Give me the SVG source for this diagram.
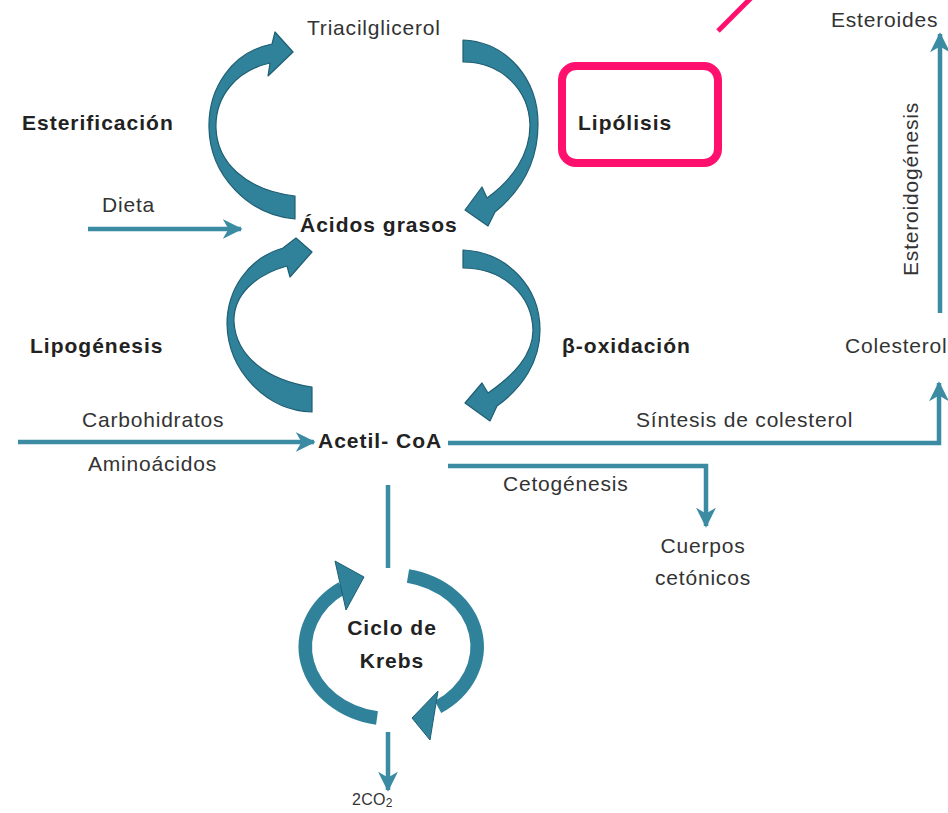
<svg xmlns="http://www.w3.org/2000/svg" width="948" height="813" viewBox="0 0 948 813">
<style>
  .t { font-family: "Liberation Sans", Arial, sans-serif; font-size: 21px; fill: #333; letter-spacing: 0.8px; }
  .b { font-family: "Liberation Sans", Arial, sans-serif; font-size: 21px; font-weight: bold; fill: #222; letter-spacing: 1px; }
  .ln { fill: none; stroke: #3b8ca3; stroke-width: 4.5; }
  .cv { fill: #30819a; stroke: #1f5f73; stroke-width: 1.2; stroke-linejoin: round; }
  .kr { fill: none; stroke: #30819a; stroke-width: 13.5; }
  .kh { fill: #30819a; stroke: #1f5f73; stroke-width: 1; stroke-linejoin: round; }
  .pk { fill: none; stroke: #ff0f6e; }
</style>
<defs>
  <marker id="ah" viewBox="0 0 12 12" refX="11" refY="6" markerWidth="20" markerHeight="20" markerUnits="userSpaceOnUse" orient="auto">
    <path d="M0,0 L12,6 L0,12 L3.5,6 Z" fill="#3b8ca3"/>
  </marker>
</defs>
<rect width="948" height="813" fill="#fff"/>

<g id="connectors">
  <path id="c-dieta" class="ln" d="M88 229 H241" marker-end="url(#ah)"/>
  <path id="c-carbo" class="ln" d="M18 442 H314" marker-end="url(#ah)"/>
  <path id="c-colesterol" class="ln" d="M448 443 H939 V383" marker-end="url(#ah)"/>
  <path id="c-ceto" class="ln" d="M448 466 H706 V526" marker-end="url(#ah)"/>
  <path id="c-esteroido" class="ln" d="M940 313 V34" marker-end="url(#ah)"/>
  <path id="c-krebs-in" class="ln" d="M388 485 V568"/>
  <path id="c-co2" class="ln" d="M388 732 V790" marker-end="url(#ah)"/>

  <path id="c-esterificacion" class="cv" d="M295 196 C245 190 217 162 216 128 C215 95 238 70 270 63 L268 76 L293 52 L275 32 L272 44 C232 52 208 88 209 128 C210 175 248 215 295 219 Z"/>
  <path id="c-lipolisis" class="cv" d="M463 40 C508 42 538 80 538 124 C538 160 522 190 495 212 L488 226 L465 210 L482 187 L487 198 C512 180 530 155 530 125 C529 90 502 62 463 62 Z"/>
  <path id="c-lipogenesis" class="cv" d="M312 387 C265 380 236 355 234 322 C233 295 255 275 287 266 L290 277 L312 252 L296 238 L283 248 C248 258 227 290 227 324 C228 370 265 410 312 412 Z"/>
  <path id="c-boxidacion" class="cv" d="M463 250 C508 252 540 288 540 330 C540 362 522 388 497 406 L490 421 L465 403 L482 383 L488 393 C514 375 533 355 533 330 C532 295 503 268 463 268 Z"/>

  <path id="c-krebs-left" class="kr" d="M377 718 A86 72 0 0 1 342 588"/>
  <polygon class="kh" points="335,561 364,577 346,610"/>
  <path id="c-krebs-right" class="kr" d="M408 576 A86 72 0 0 1 438 707"/>
  <polygon class="kh" points="438,691 412,718 430,740"/>
</g>

<g id="n-triacilglicerol"><text class="t" x="307" y="35">Triacilglicerol</text></g>
<g id="n-esterificacion"><text class="b" x="22" y="130">Esterificación</text></g>
<g id="n-lipolisis">
  <rect class="pk" x="562" y="66" width="156" height="97" rx="14" stroke-width="8"/>
  <text class="b" x="578" y="130">Lipólisis</text>
</g>
<g id="n-pink-line"><line class="pk" x1="718" y1="31" x2="754" y2="-5" stroke-width="5"/></g>
<g id="n-dieta"><text class="t" x="102" y="212">Dieta</text></g>
<g id="n-acidos"><text class="b" x="300" y="232">Ácidos grasos</text></g>
<g id="n-lipogenesis"><text class="b" x="30" y="353">Lipogénesis</text></g>
<g id="n-boxidacion"><text class="b" x="562" y="353">β-oxidación</text></g>
<g id="n-carbo"><text class="t" x="82" y="427">Carbohidratos</text></g>
<g id="n-amino"><text class="t" x="88" y="471">Aminoácidos</text></g>
<g id="n-acetil"><text class="b" x="318" y="448">Acetil- CoA</text></g>
<g id="n-sintesis"><text class="t" x="636" y="427">Síntesis de colesterol</text></g>
<g id="n-cetogenesis"><text class="t" x="503" y="491">Cetogénesis</text></g>
<g id="n-cuerpos">
  <text class="t" x="703" y="553" text-anchor="middle">Cuerpos</text>
  <text class="t" x="703" y="585" text-anchor="middle">cetónicos</text>
</g>
<g id="n-colesterol"><text class="t" x="845" y="353">Colesterol</text></g>
<g id="n-esteroides"><text class="t" x="831" y="27">Esteroides</text></g>
<g id="n-esteroidogenesis"><text class="t" transform="translate(918 189) rotate(-90)" text-anchor="middle">Esteroidogénesis</text></g>
<g id="n-krebs">
  <text class="b" x="392" y="635" text-anchor="middle">Ciclo de</text>
  <text class="b" x="392" y="668" text-anchor="middle">Krebs</text>
</g>
<g id="n-co2"><text class="t" x="352" y="805" style="font-size:16px;letter-spacing:0.3px">2CO<tspan dy="2" style="font-size:12px">2</tspan></text></g>
</svg>
